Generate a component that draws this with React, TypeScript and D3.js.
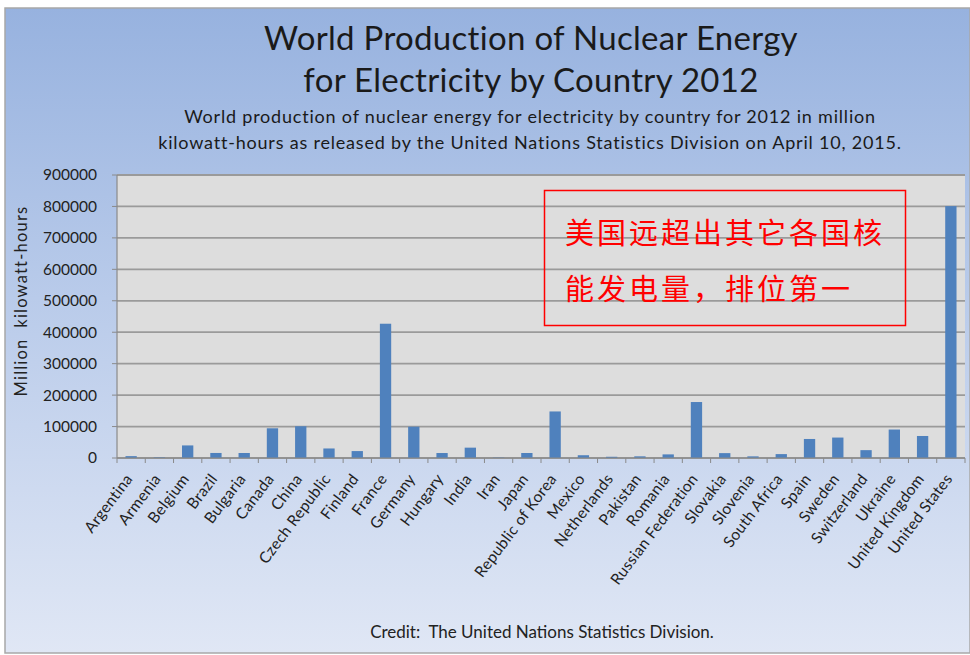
import { scaleBand, scaleLinear } from 'd3'

const countries = [
  'Argentina', 'Armenia', 'Belgium', 'Brazil', 'Bulgaria', 'Canada', 'China',
  'Czech Republic', 'Finland', 'France', 'Germany', 'Hungary', 'India', 'Iran',
  'Japan', 'Republic of Korea', 'Mexico', 'Netherlands', 'Pakistan', 'Romania',
  'Russian Federation', 'Slovakia', 'Slovenia', 'South Africa', 'Spain', 'Sweden',
  'Switzerland', 'Ukraine', 'United Kingdom', 'United States',
]

// million kWh
const production = [
  5900, 2100, 40000, 16000, 15900, 94500, 101000,
  30300, 22000, 427000, 99500, 15800, 32900, 1300,
  15900, 148000, 8800, 3900, 5300, 11500,
  178000, 15500, 5200, 12400, 60500, 65000,
  25000, 90500, 70000, 801000,
]

const yTicks = [0, 100000, 200000, 300000, 400000, 500000, 600000, 700000, 800000, 900000]

const titleLines = ['World Production of Nuclear Energy', 'for Electricity by Country 2012']
const subtitleLines = [
  'World production of nuclear energy for electricity by country for 2012 in million',
  'kilowatt-hours as released by the United Nations Statistics Division on April 10, 2015.',
]
const noteLines = ['美国远超出其它各国核', '能发电量，排位第一']

const width = 970
const height = 655

const plot = {
  left: 117,
  right: 965,
  top: 175,
  bottom: 458,
}

const font = 'Lato, "Open Sans", sans-serif'

function App() {
  const xScale = scaleBand<string>()
    .domain(countries)
    .range([plot.left, plot.right])
    .paddingInner(0.6)
    .paddingOuter(0.3)

  const yScale = scaleLinear()
    .domain([0, 900000])
    .range([plot.bottom, plot.top])

  const step = xScale.step()
  const boundaries = countries.map((_, index) => plot.left + index * ((plot.right - plot.left) / countries.length))
  boundaries.push(plot.right)

  return (
    <svg
      width={width}
      height={height}
      viewBox={`0 0 ${width} ${height}`}
      style={{ position: 'absolute', left: 0, top: 0, display: 'block' }}
    >
      <defs>
        <linearGradient id="bg" x1="0" y1="0" x2="0" y2="1">
          <stop offset="0%" stopColor="#97b2df" />
          <stop offset="45%" stopColor="#b9cbea" />
          <stop offset="100%" stopColor="#e0e7f5" />
        </linearGradient>
      </defs>

      <rect x={0} y={0} width={width} height={height} fill="#ffffff" />
      <rect x={5} y={8} width={width - 5} height={height - 10} fill="url(#bg)" stroke="#a8a8a8" strokeWidth={1.5} />

      {titleLines.map((lineText, index) => (
        <text
          key={lineText}
          x={531}
          y={50 + index * 42}
          textAnchor="middle"
          fontFamily={font}
          fontSize={33}
          letterSpacing={0.3}
          fill="#1a1a1a"
        >
          {lineText}
        </text>
      ))}

      {subtitleLines.map((lineText, index) => (
        <text
          key={lineText}
          x={530}
          y={123 + index * 26}
          textAnchor="middle"
          fontFamily={font}
          fontSize={18}
          letterSpacing={0.8}
          fill="#1a1a1a"
        >
          {lineText}
        </text>
      ))}

      <rect
        x={plot.left}
        y={plot.top}
        width={plot.right - plot.left}
        height={plot.bottom - plot.top}
        fill="#dddddd"
      />

      {yTicks.map((tick) => (
        <line
          key={`grid-${tick}`}
          x1={plot.left}
          x2={plot.right}
          y1={yScale(tick)}
          y2={yScale(tick)}
          stroke="#9a9a9a"
          strokeWidth={1.8}
        />
      ))}

      {yTicks.map((tick) => (
        <g key={`ytick-${tick}`}>
          <line x1={plot.left - 5} x2={plot.left} y1={yScale(tick)} y2={yScale(tick)} stroke="#8a8a8a" />
          <text
            x={97}
            y={yScale(tick)}
            dy="0.35em"
            textAnchor="end"
            fontFamily={font}
            fontSize={15.5}
            fill="#222"
          >
            {tick}
          </text>
        </g>
      ))}

      <line x1={plot.left} x2={plot.left} y1={plot.top} y2={plot.bottom} stroke="#8a8a8a" strokeWidth={1.2} />

      {countries.map((country, index) => (
        <rect
          key={`bar-${country}`}
          x={xScale(country) ?? 0}
          y={yScale(production[index])}
          width={xScale.bandwidth()}
          height={plot.bottom - yScale(production[index])}
          fill="#4f81bd"
        />
      ))}

      <line x1={plot.left} x2={plot.right} y1={plot.bottom} y2={plot.bottom} stroke="#8a8a8a" strokeWidth={1.2} />

      {boundaries.map((bx, index) => (
        <line key={`xtick-${index}`} x1={bx} x2={bx} y1={plot.bottom} y2={plot.bottom + 5} stroke="#8a8a8a" />
      ))}

      {countries.map((country) => {
        const cx = (xScale(country) ?? 0) + xScale.bandwidth() / 2 + step * 0.08
        return (
          <text
            key={`label-${country}`}
            transform={`translate(${cx}, ${plot.bottom + 21}) rotate(-53)`}
            textAnchor="end"
            fontFamily={font}
            fontSize={15.5}
            letterSpacing={0.3}
            fill="#222"
          >
            {country}
          </text>
        )
      })}

      <text
        transform={`translate(27, 301) rotate(-90)`}
        textAnchor="middle"
        fontFamily={font}
        fontSize={16.5}
        letterSpacing={1.2}
        fill="#222"
        style={{ whiteSpace: 'pre' }}
      >
        {'Million  kilowatt-hours'}
      </text>

      <text
        x={542}
        y={638}
        textAnchor="middle"
        fontFamily={font}
        fontSize={17}
        fill="#222"
        style={{ whiteSpace: 'pre' }}
      >
        {'Credit:  The United Nations Statistics Division.'}
      </text>

      <rect x={544.5} y={190.5} width={361} height={135} fill="none" stroke="#ff0000" strokeWidth={1.5} />
      {noteLines.map((lineText, index) => (
        <text
          key={lineText}
          x={565}
          y={244 + index * 56}
          fontFamily={'"Noto Sans CJK SC", sans-serif'}
          fontSize={29}
          letterSpacing={3}
          fill="#ff0000"
        >
          {lineText}
        </text>
      ))}
    </svg>
  )
}

export default App
